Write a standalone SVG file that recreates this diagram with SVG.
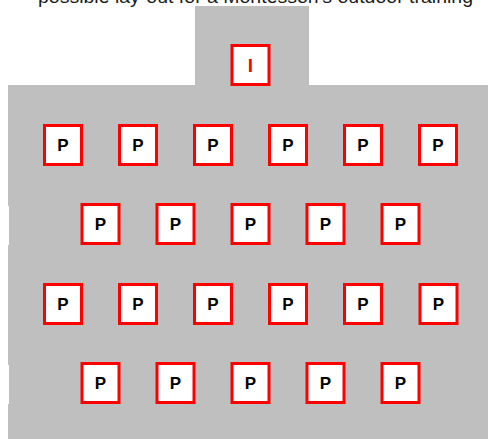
<svg xmlns="http://www.w3.org/2000/svg" width="488" height="439" viewBox="0 0 488 439">
<style>
.bg{fill:#bfbfbf}
.box{fill:#fff;stroke:#ff0000;stroke-width:3}
.p{font-family:"Liberation Sans",Arial,sans-serif;font-weight:bold;font-size:17px;fill:#000;text-anchor:middle}
.i{font-family:"Liberation Sans",Arial,sans-serif;font-weight:bold;font-size:19px;fill:#ff0000;text-anchor:middle}
.cap{font-family:"Liberation Sans",Arial,sans-serif;font-size:18px;fill:#1a1a1a}
</style>
<defs>
<g id="pbox"><rect class="box" x="-18.5" y="-19.5" width="37" height="39"/><text class="p" x="0" y="6">P</text></g>
</defs>
<rect width="488" height="439" fill="#fff"/>
<path class="bg" d="M195 6H309V85H488V439H8V404H9V365H8V245H9V206H8V85H195Z"/>
<text class="cap" x="38" y="2.5" textLength="435" lengthAdjust="spacingAndGlyphs">possible lay-out for a Montessori's outdoor training</text>
<g id="connectors"/>
<g id="node-I"><rect class="box" x="232" y="45.5" width="37" height="39"/><text class="i" x="250.5" y="72">I</text></g>
<g id="node-P1-1"><use href="#pbox" x="63" y="145"/></g>
<g id="node-P1-2"><use href="#pbox" x="138" y="145"/></g>
<g id="node-P1-3"><use href="#pbox" x="213" y="145"/></g>
<g id="node-P1-4"><use href="#pbox" x="288" y="145"/></g>
<g id="node-P1-5"><use href="#pbox" x="363" y="145"/></g>
<g id="node-P1-6"><use href="#pbox" x="438" y="145"/></g>
<g id="node-P2-1"><use href="#pbox" x="100.5" y="224"/></g>
<g id="node-P2-2"><use href="#pbox" x="175.5" y="224"/></g>
<g id="node-P2-3"><use href="#pbox" x="250.5" y="224"/></g>
<g id="node-P2-4"><use href="#pbox" x="325.5" y="224"/></g>
<g id="node-P2-5"><use href="#pbox" x="400.5" y="224"/></g>
<g id="node-P3-1"><use href="#pbox" x="63" y="304"/></g>
<g id="node-P3-2"><use href="#pbox" x="138" y="304"/></g>
<g id="node-P3-3"><use href="#pbox" x="213" y="304"/></g>
<g id="node-P3-4"><use href="#pbox" x="288" y="304"/></g>
<g id="node-P3-5"><use href="#pbox" x="363" y="304"/></g>
<g id="node-P3-6"><use href="#pbox" x="438.5" y="304"/></g>
<g id="node-P4-1"><use href="#pbox" x="100.5" y="383"/></g>
<g id="node-P4-2"><use href="#pbox" x="175.5" y="383"/></g>
<g id="node-P4-3"><use href="#pbox" x="250.5" y="383"/></g>
<g id="node-P4-4"><use href="#pbox" x="325.5" y="383"/></g>
<g id="node-P4-5"><use href="#pbox" x="400.5" y="383"/></g>
</svg>
